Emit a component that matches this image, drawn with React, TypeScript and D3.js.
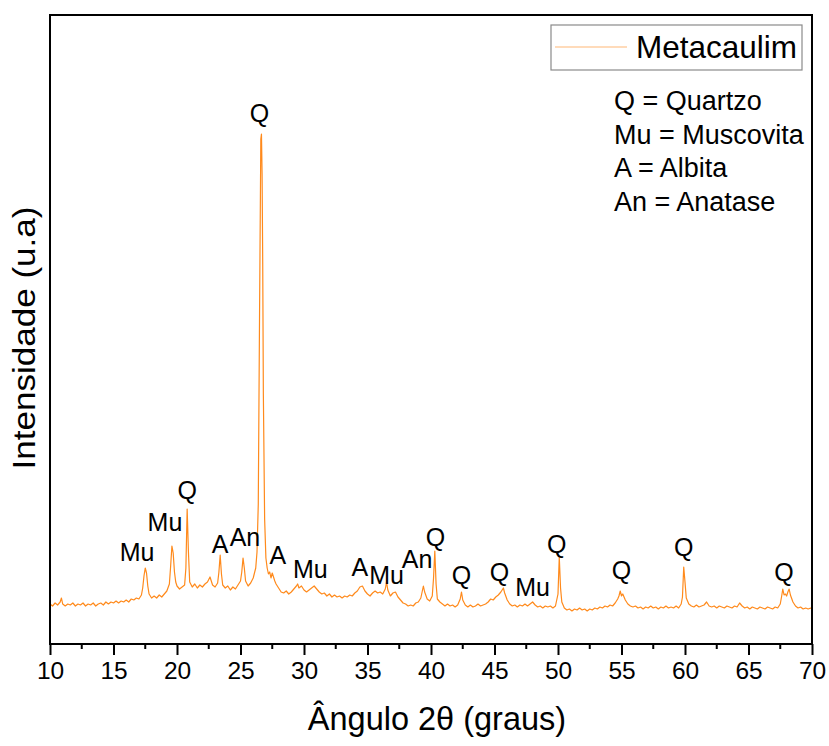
import React, { useEffect, useRef } from 'react';
import * as d3 from 'd3';

// 2θ (graus) / intensidade (u.a), split by region
const scan10to20: [number, number][] = [
  [10.0, 40], [10.2, 38], [10.4, 41], [10.6, 39], [10.8, 42], [10.9, 46], [11.0, 40], [11.2, 38],
  [11.4, 40], [11.6, 39], [11.8, 41], [12.0, 38], [12.2, 40], [12.4, 39], [12.6, 41], [12.8, 38],
  [13.0, 40], [13.2, 39], [13.4, 41], [13.6, 38], [13.8, 40], [14.0, 41], [14.2, 39], [14.4, 42],
  [14.6, 40], [14.8, 42], [15.0, 41], [15.2, 43], [15.4, 41], [15.6, 43], [15.8, 42], [16.0, 44],
  [16.2, 42], [16.4, 45], [16.6, 44], [16.8, 46], [17.0, 45], [17.2, 49], [17.3, 56], [17.4, 68],
  [17.5, 76], [17.6, 71], [17.7, 58], [17.8, 50], [18.0, 46], [18.2, 48], [18.4, 46], [18.6, 49],
  [18.8, 47], [19.0, 50], [19.2, 53], [19.4, 60], [19.5, 78], [19.6, 98], [19.7, 91], [19.8, 72],
  [19.9, 62],
];
const scan20to30: [number, number][] = [
  [20.0, 58], [20.2, 55], [20.4, 57], [20.6, 59], [20.7, 76], [20.8, 135], [20.9, 92], [21.0, 62],
  [21.2, 57], [21.4, 60], [21.6, 56], [21.8, 59], [22.0, 57], [22.2, 60], [22.4, 62], [22.6, 67],
  [22.7, 63], [22.8, 59], [23.0, 57], [23.2, 61], [23.3, 72], [23.4, 89], [23.5, 70], [23.6, 59],
  [23.8, 56], [24.0, 58], [24.2, 54], [24.4, 57], [24.6, 55], [24.8, 59], [25.0, 63], [25.1, 72],
  [25.2, 86], [25.3, 76], [25.4, 63], [25.6, 58], [25.8, 61], [26.0, 66], [26.2, 76], [26.3, 92],
  [26.4, 140], [26.5, 330], [26.6, 505], [26.65, 510], [26.7, 470], [26.75, 380], [26.8, 250],
  [26.9, 125], [27.0, 86], [27.1, 76], [27.2, 70], [27.3, 72], [27.4, 66], [27.5, 71], [27.6, 67],
  [27.7, 63], [27.8, 60], [28.0, 56], [28.2, 52], [28.4, 51], [28.6, 53], [28.8, 50], [29.0, 52],
  [29.2, 55], [29.4, 58], [29.5, 60], [29.6, 56], [29.8, 58],
];
const scan30to40: [number, number][] = [
  [30.0, 54], [30.2, 52], [30.4, 54], [30.6, 56], [30.8, 58], [31.0, 55], [31.2, 52], [31.4, 50],
  [31.6, 51], [31.8, 48], [32.0, 50], [32.2, 47], [32.4, 49], [32.6, 47], [32.8, 48], [33.0, 46],
  [33.2, 48], [33.4, 47], [33.6, 49], [33.8, 48], [34.0, 51], [34.2, 53], [34.4, 57], [34.6, 58],
  [34.8, 53], [35.0, 50], [35.2, 48], [35.4, 51], [35.6, 53], [35.8, 51], [36.0, 52], [36.2, 50],
  [36.4, 55], [36.5, 62], [36.6, 54], [36.8, 48], [37.0, 51], [37.2, 52], [37.4, 47], [37.6, 44],
  [37.8, 41], [38.0, 40], [38.2, 38], [38.4, 39], [38.6, 38], [38.8, 41], [39.0, 42], [39.2, 46],
  [39.4, 58], [39.5, 52], [39.7, 45], [39.9, 43],
];
const scan40to50: [number, number][] = [
  [40.1, 48], [40.2, 66], [40.3, 93], [40.4, 60], [40.5, 45], [40.7, 42], [40.9, 40], [41.1, 38],
  [41.3, 40], [41.5, 38], [41.7, 39], [41.9, 37], [42.1, 39], [42.3, 45], [42.4, 52], [42.5, 44],
  [42.7, 39], [42.9, 37], [43.1, 39], [43.3, 37], [43.5, 38], [43.7, 40], [43.9, 38], [44.1, 39],
  [44.3, 40], [44.5, 42], [44.7, 45], [44.9, 44], [45.1, 47], [45.3, 49], [45.5, 52], [45.6, 54],
  [45.7, 56], [45.8, 51], [46.0, 44], [46.2, 40], [46.4, 38], [46.6, 39], [46.8, 37], [47.0, 39],
  [47.2, 38], [47.4, 40], [47.6, 38], [47.8, 40], [48.0, 42], [48.2, 39], [48.4, 37], [48.6, 38],
  [48.8, 36], [49.0, 38], [49.2, 37], [49.4, 38], [49.6, 36], [49.8, 38],
];
const scan50to60: [number, number][] = [
  [50.0, 50], [50.1, 87], [50.2, 56], [50.3, 42], [50.5, 36], [50.7, 34], [50.9, 35], [51.1, 33],
  [51.3, 35], [51.5, 34], [51.7, 36], [51.9, 34], [52.1, 35], [52.3, 33], [52.5, 35], [52.7, 34],
  [52.9, 36], [53.1, 35], [53.3, 37], [53.5, 36], [53.7, 38], [53.9, 37], [54.1, 39], [54.3, 38],
  [54.5, 41], [54.7, 45], [54.8, 48], [54.9, 53], [55.0, 48], [55.1, 50], [55.3, 44], [55.5, 40],
  [55.7, 38], [55.9, 37], [56.1, 38], [56.3, 36], [56.5, 37], [56.7, 35], [56.9, 37], [57.1, 36],
  [57.3, 38], [57.5, 36], [57.7, 37], [57.9, 35], [58.1, 37], [58.3, 36], [58.5, 38], [58.7, 36],
  [58.9, 37], [59.1, 36], [59.3, 38], [59.5, 36], [59.7, 40], [59.8, 47], [59.9, 77],
];
const scan60to70: [number, number][] = [
  [60.0, 62], [60.1, 46], [60.3, 40], [60.5, 38], [60.7, 37], [60.9, 39], [61.1, 37], [61.3, 38],
  [61.5, 39], [61.7, 42], [61.9, 38], [62.1, 37], [62.3, 38], [62.5, 36], [62.7, 38], [62.9, 37],
  [63.1, 36], [63.3, 38], [63.5, 37], [63.7, 36], [63.9, 38], [64.1, 37], [64.3, 41], [64.5, 38],
  [64.7, 36], [64.9, 37], [65.1, 35], [65.3, 37], [65.5, 36], [65.7, 35], [65.9, 37], [66.1, 36],
  [66.3, 35], [66.5, 37], [66.7, 36], [66.9, 35], [67.1, 37], [67.3, 36], [67.5, 40], [67.6, 47],
  [67.7, 55], [67.8, 49], [67.9, 50], [68.0, 48], [68.1, 52], [68.2, 55], [68.3, 49], [68.5, 42],
  [68.7, 38], [68.9, 36], [69.1, 37], [69.3, 35], [69.5, 36], [69.7, 35], [69.9, 36], [70.0, 35],
];

// phase labels: text, angle it sits at, intensity of its baseline
const peakNames = ['Mu', 'Mu', 'Q', 'A', 'An', 'Q', 'A', 'Mu', 'A', 'Mu', 'An', 'Q', 'Q', 'Q', 'Mu', 'Q', 'Q', 'Q', 'Q'];
const peakAngles = [16.85, 19.05, 20.8, 23.4, 25.35, 26.5, 27.95, 30.5, 34.4, 36.5, 38.9, 40.35, 42.4, 45.4, 48.0, 49.9, 55.0, 59.9, 67.8];
const peakLabelLevels = [83, 113, 145, 91, 98, 522, 80, 66, 68, 60, 76, 98, 60, 63, 48, 91, 65, 88, 63];

const xTicks = [10, 15, 20, 25, 30, 35, 40, 45, 50, 55, 60, 65, 70];
const seriesName = 'Metacaulim';
const phaseKey = ['Q = Quartzo', 'Mu = Muscovita', 'A = Albita', 'An = Anatase'];

const W = 829;
const H = 746;
const FONT = 'Liberation Sans, Arial, Helvetica, sans-serif';
const ORANGE = '#ff8a1c';

export default function App() {
  const ref = useRef<SVGSVGElement>(null);

  useEffect(() => {
    const svg = d3.select(ref.current);
    svg.selectAll('*').remove();

    const left = 50, right = 812, top = 15, bottom = 644;
    const x = d3.scaleLinear().domain([10, 70]).range([left, right]);
    const y = d3.scaleLinear().domain([0, 629]).range([bottom, top]);

    const data = [...scan10to20, ...scan20to30, ...scan30to40, ...scan40to50, ...scan50to60, ...scan60to70];

    const line = d3.line<[number, number]>()
      .x(d => x(d[0]))
      .y(d => y(d[1]));

    svg.append('path')
      .datum(data)
      .attr('d', line)
      .attr('fill', 'none')
      .attr('stroke', ORANGE)
      .attr('stroke-width', 1.2)
      .attr('stroke-linejoin', 'round');

    // frame
    svg.append('rect')
      .attr('x', left).attr('y', top)
      .attr('width', right - left).attr('height', bottom - top)
      .attr('fill', 'none').attr('stroke', '#000').attr('stroke-width', 2);

    // bottom axis, ticks outward
    const axis = d3.axisBottom(x).tickValues(xTicks).tickSize(11).tickPadding(7).tickFormat(d3.format('d'));
    const g = svg.append('g').attr('transform', `translate(0,${bottom})`).call(axis);
    g.select('.domain').remove();
    g.selectAll('.tick line').attr('stroke', '#000').attr('stroke-width', 2);
    g.selectAll('.tick text')
      .attr('font-family', FONT).attr('font-size', 24.5).attr('fill', '#000');
    const minor = xTicks.slice(0, -1).map(t => t + 2.5);
    g.selectAll('.minor').data(minor).enter().append('line')
      .attr('x1', d => x(d)).attr('x2', d => x(d))
      .attr('y1', 0).attr('y2', 5)
      .attr('stroke', '#000').attr('stroke-width', 2);

    svg.append('text')
      .attr('x', 437).attr('y', 730)
      .attr('text-anchor', 'middle')
      .attr('font-family', FONT).attr('font-size', 32.5)
      .text('Ângulo 2θ (graus)');

    svg.append('text')
      .attr('transform', `translate(35,${338}) rotate(-90)`)
      .attr('text-anchor', 'middle')
      .attr('font-family', FONT).attr('font-size', 31)
      .attr('textLength', 263).attr('lengthAdjust', 'spacingAndGlyphs')
      .text('Intensidade (u.a)');

    // peak labels
    svg.selectAll('.peak').data(peakNames).enter().append('text')
      .attr('x', (_, i) => x(peakAngles[i]))
      .attr('y', (_, i) => y(peakLabelLevels[i]))
      .attr('text-anchor', 'middle')
      .attr('font-family', FONT).attr('font-size', 25)
      .text(d => d);

    // legend
    svg.append('rect')
      .attr('x', 551).attr('y', 25).attr('width', 251).attr('height', 45)
      .attr('fill', '#fff').attr('stroke', '#8a8a8a').attr('stroke-width', 1.2);
    svg.append('line')
      .attr('x1', 555).attr('x2', 627).attr('y1', 47).attr('y2', 47)
      .attr('stroke', ORANGE).attr('stroke-opacity', 0.6).attr('stroke-width', 1.2);
    svg.append('text')
      .attr('x', 636).attr('y', 58)
      .attr('font-family', FONT).attr('font-size', 31.5)
      .text(seriesName);

    svg.selectAll('.key').data(phaseKey).enter().append('text')
      .attr('x', 614)
      .attr('y', (_, i) => 110 + i * 33.5)
      .attr('font-family', FONT).attr('font-size', 27)
      .text(d => d);
  }, []);

  return (
    <svg ref={ref} width={W} height={H}
      style={{ position: 'absolute', left: 0, top: 0, background: '#fff' }} />
  );
}
